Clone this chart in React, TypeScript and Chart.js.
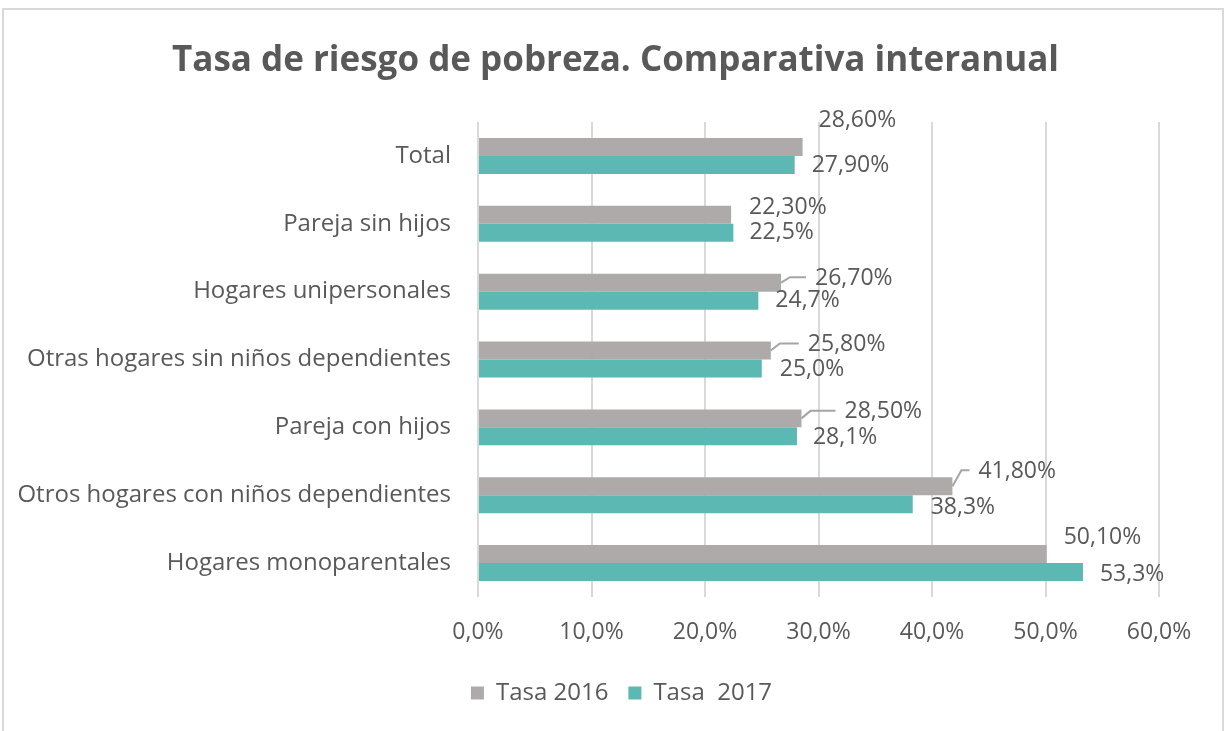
import { useEffect, useRef } from "react";
import { Chart, registerables } from "chart.js";

Chart.register(...registerables);

const titleText = "Tasa de riesgo de pobreza. Comparativa interanual";
const categories = [
  "Total",
  "Pareja sin hijos",
  "Hogares unipersonales",
  "Otras hogares sin niños dependientes",
  "Pareja con hijos",
  "Otros hogares con niños dependientes",
  "Hogares monoparentales",
];
const seriesNames = ["Tasa 2016", "Tasa  2017"];
const tasa2016 = [28.6, 22.3, 26.7, 25.8, 28.5, 41.8, 50.1];
const tasa2017 = [27.9, 22.5, 24.7, 25.0, 28.1, 38.3, 53.3];
const decimals2016 = [2, 2, 2, 2, 2, 2, 2];
const decimals2017 = [2, 1, 1, 1, 1, 1, 1];
const xTickLabels = ["0,0%", "10,0%", "20,0%", "30,0%", "40,0%", "50,0%", "60,0%"];

const FONT = "'Open Sans', sans-serif";
const TEXT = "#595959";

// label placement (pixels relative to bar end / bar centre): [dx, dy, leaderLine]
const OFF2016: [number, number, boolean][] = [
  [16, -26, false],
  [18, -7, false],
  [34, -4.5, true],
  [37, -6, true],
  [43, -6.5, true],
  [26, -15, true],
  [17, -17, false],
];
const OFF2017: [number, number, boolean][] = [
  [17, 1, false],
  [16, 0, false],
  [17, 0, false],
  [18, 1, false],
  [16, 1, false],
  [18, 3, false],
  [17, 2, false],
];

const fmt = (v: number, d: number) => v.toFixed(d).replace(".", ",") + "%";

const dataLabelPlugin = {
  id: "dataLabels",
  afterLayout(chart: any) {
    // centre title and legend as in the reference (they sit right of the canvas centre)
    if (chart.titleBlock) {
      chart.titleBlock.left += 29;
      chart.titleBlock.right += 29;
    }
    if (chart.legend) {
      chart.legend.left += 35;
      chart.legend.right += 35;
    }
  },
  afterDatasetsDraw(chart: any) {
    const ctx = chart.ctx as CanvasRenderingContext2D;
    ctx.save();
    ctx.font = `23px ${FONT}`;
    ctx.fillStyle = TEXT;
    ctx.textBaseline = "middle";
    ctx.textAlign = "left";
    chart.data.datasets.forEach((ds: any, di: number) => {
      const meta = chart.getDatasetMeta(di);
      const offs = di === 0 ? OFF2016 : OFF2017;
      const decs = di === 0 ? decimals2016 : decimals2017;
      meta.data.forEach((el: any, i: number) => {
        const { x, y } = el.getProps(["x", "y"], true);
        const [dx, dy, leader] = offs[i];
        const lx = x + dx;
        const ly = y + dy;
        if (leader) {
          ctx.beginPath();
          ctx.strokeStyle = "#a5a5a5";
          ctx.lineWidth = 2;
          ctx.moveTo(x, y);
          ctx.lineTo(x + 9, ly - 1);
          ctx.lineTo(lx - 9, ly - 1);
          ctx.stroke();
        }
        ctx.fillText(fmt(ds.data[i], decs[i]), lx, ly);
      });
    });
    ctx.restore();
  },
};

export default function App() {
  const ref = useRef<HTMLCanvasElement>(null);
  useEffect(() => {
    const chart = new Chart(ref.current!, {
      type: "bar",
      data: {
        labels: categories,
        datasets: [
          {
            label: seriesNames[0],
            data: tasa2016,
            backgroundColor: "#AEAAAA",
            categoryPercentage: 0.53,
            barPercentage: 1,
          },
          {
            label: seriesNames[1],
            data: tasa2017,
            backgroundColor: "#5BB8B2",
            categoryPercentage: 0.53,
            barPercentage: 1,
          },
        ],
      },
      options: {
        indexAxis: "y",
        responsive: false,
        animation: false,
        devicePixelRatio: 1,
        layout: { padding: { left: 14, right: 68, top: 0, bottom: 16 } },
        scales: {
          x: {
            min: 0,
            max: 60,
            ticks: {
              stepSize: 10,
              callback: (_v: any, i: number) => xTickLabels[i],
              color: TEXT,
              font: { size: 23, family: FONT },
              padding: 22,
            },
            grid: { color: "#d9d9d9", lineWidth: 2, drawTicks: false },
            border: { display: false },
            afterFit: (s: any) => {
              s.height = 64;
            },
          },
          y: {
            grid: { display: false, drawTicks: false },
            border: { display: false },
            ticks: { color: TEXT, font: { size: 24, family: FONT }, padding: 27 },
            afterFit: (s: any) => {
              s.width = 464;
            },
          },
        },
        plugins: {
          title: {
            display: true,
            text: titleText,
            color: TEXT,
            font: { size: 35, weight: "bold", family: FONT },
            padding: { top: 40, bottom: 40 },
          },
          legend: {
            position: "bottom",
            labels: {
              boxWidth: 13,
              boxHeight: 13,
              color: TEXT,
              font: { size: 24, family: FONT },
              padding: 20,
            },
          },
          tooltip: { enabled: false },
        },
      } as any,
      plugins: [dataLabelPlugin],
    });
    return () => chart.destroy();
  }, []);
  return (
    <div
      style={{
        position: "fixed",
        left: 0,
        top: 0,
        width: 1227,
        height: 731,
        overflow: "hidden",
        background: "#fff",
      }}
    >
      <div
        style={{
          position: "absolute",
          left: 2,
          top: 8,
          width: 1222,
          height: 760,
          border: "2px solid #d9d9d9",
          boxSizing: "border-box",
        }}
      />
      <canvas
        ref={ref}
        width={1227}
        height={731}
        style={{ position: "absolute", left: 0, top: 0, width: 1227, height: 731 }}
      />
    </div>
  );
}
